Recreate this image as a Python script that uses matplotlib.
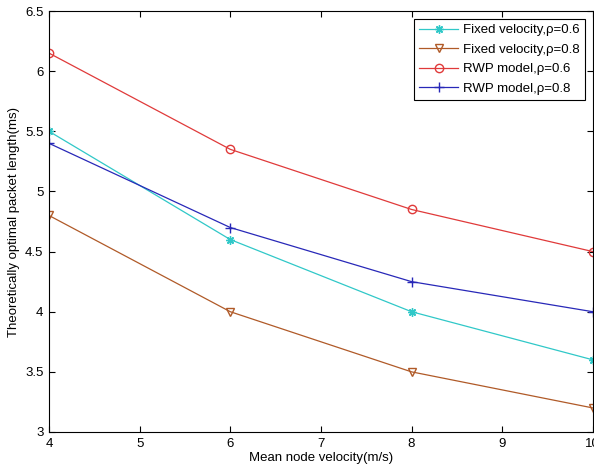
import matplotlib
matplotlib.use("Agg")
import matplotlib.pyplot as plt

plt.rcParams["font.family"] = ["Liberation Sans", "DejaVu Sans"]

# mean node velocity (m/s)
velocity = [4, 6, 8, 10]

# optimal packet length (ms) per scenario
fixed_06 = [5.5, 4.6, 4.0, 3.6]
fixed_08 = [4.8, 4.0, 3.5, 3.2]
rwp_06 = [6.15, 5.35, 4.85, 4.5]
rwp_08 = [5.4, 4.7, 4.25, 4.0]

labels = ["Fixed velocity,ρ=0.6", "Fixed velocity,ρ=0.8",
          "RWP model,ρ=0.6", "RWP model,ρ=0.8"]

fig = plt.figure(figsize=(5.94, 4.73), dpi=100)
ax = fig.add_axes([0.0825, 0.0867, 0.9155, 0.89])

ax.plot(velocity, fixed_06, color="#30c8c8", lw=0.9, marker=(8, 2, 0), ms=6,
        mew=1.0, label=labels[0])
ax.plot(velocity, fixed_08, color="#b05a28", lw=0.9, marker="v", ms=6,
        mfc="none", label=labels[1])
ax.plot(velocity, rwp_06, color="#e03a3a", lw=0.9, marker="o", ms=6,
        mfc="none", label=labels[2])
ax.plot(velocity, rwp_08, color="#2828b8", lw=0.9, marker="+", ms=7,
        label=labels[3])

ax.set_xlim(4, 10)
ax.set_ylim(3, 6.5)
ax.set_xticks(range(4, 11))
ax.set_yticks([3, 3.5, 4, 4.5, 5, 5.5, 6, 6.5])
ax.set_yticklabels(["3", "3.5", "4", "4.5", "5", "5.5", "6", "6.5"])
ax.tick_params(direction="in", top=True, right=True, labelsize=9.5,
               length=4, width=0.8, pad=4)
for s in ax.spines.values():
    s.set_linewidth(0.8)

ax.set_xlabel("Mean node velocity(m/s)", fontsize=9.5, labelpad=2)
ax.set_ylabel("Theoretically optimal packet length(ms)", fontsize=9.5, labelpad=4)

leg = ax.legend(loc="upper right", fontsize=9.5, fancybox=False,
                edgecolor="black", framealpha=1, handlelength=3.0,
                handletextpad=0.35, borderaxespad=0.6, labelspacing=0.55,
                borderpad=0.4)
leg.get_frame().set_linewidth(0.8)

fig.savefig("out.png", dpi=100)
